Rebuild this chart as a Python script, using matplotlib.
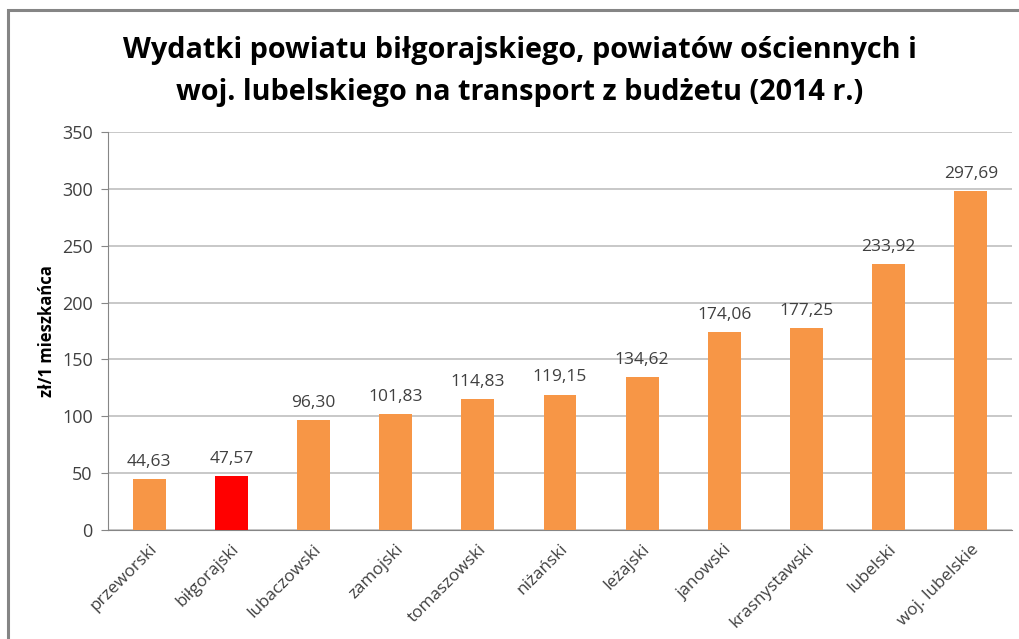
import matplotlib
matplotlib.use("Agg")
import matplotlib.pyplot as plt
from matplotlib.patches import Rectangle

# data
categories = ["przeworski", "biłgorajski", "lubaczowski", "zamojski", "tomaszowski",
              "niżański", "leżajski", "janowski", "krasnystawski", "lubelski",
              "woj. lubelskie"]
values = [44.63, 47.57, 96.30, 101.83, 114.83, 119.15, 134.62, 174.06, 177.25,
          233.92, 297.69]
highlight = "biłgorajski"
yticks = [0, 50, 100, 150, 200, 250, 300, 350]

plt.rcParams["font.family"] = ["Open Sans", "DejaVu Sans"]

fig = plt.figure(figsize=(10.19, 6.39), dpi=100)
ax = fig.add_axes([0.106, 0.1706, 0.887, 0.6228])

# outer frame like the Excel chart area
fig.patches.append(Rectangle((8 / 1019, -0.1), 1.2, 1 - 10 / 639 + 0.1,
                             transform=fig.transFigure, fill=False,
                             edgecolor="#858585", linewidth=2.2))

colors = ["#FF0000" if c == highlight else "#F79646" for c in categories]
x = range(len(categories))
bars = ax.bar(x, values, width=0.4, color=colors, zorder=3)

for b, v in zip(bars, values):
    ax.text(b.get_x() + b.get_width() / 2, v + 8, f"{v:.2f}".replace(".", ","),
            ha="center", va="bottom", fontsize=12.5, color="#404040")

ax.set_xlim(-0.5, len(categories) - 0.5)
ax.set_ylim(0, 350)
ax.set_yticks(yticks)
ax.yaxis.grid(True, color="#BFBFBF", linewidth=1.2, zorder=0)
ax.set_xticks(list(x))
ax.set_xticklabels(categories, rotation=45, ha="right", rotation_mode="anchor",
                   fontsize=12.3, color="#404040")
ax.tick_params(axis="y", labelsize=13, labelcolor="#404040", color="#868686",
               length=5, pad=6)
ax.tick_params(axis="x", length=0, pad=8)
for s in ["top", "right"]:
    ax.spines[s].set_visible(False)
for s in ["left", "bottom"]:
    ax.spines[s].set_color("#868686")

ax.set_ylabel("zł/1 mieszkańca", fontsize=12, fontweight="bold", labelpad=4)

fig.text(0.51, 0.888,
         "Wydatki powiatu biłgorajskiego, powiatów ościennych i\n"
         "woj. lubelskiego na transport z budżetu (2014 r.)",
         ha="center", va="center", fontsize=20.8, fontweight="bold",
         linespacing=1.6)

fig.savefig("out.png", dpi=100)
